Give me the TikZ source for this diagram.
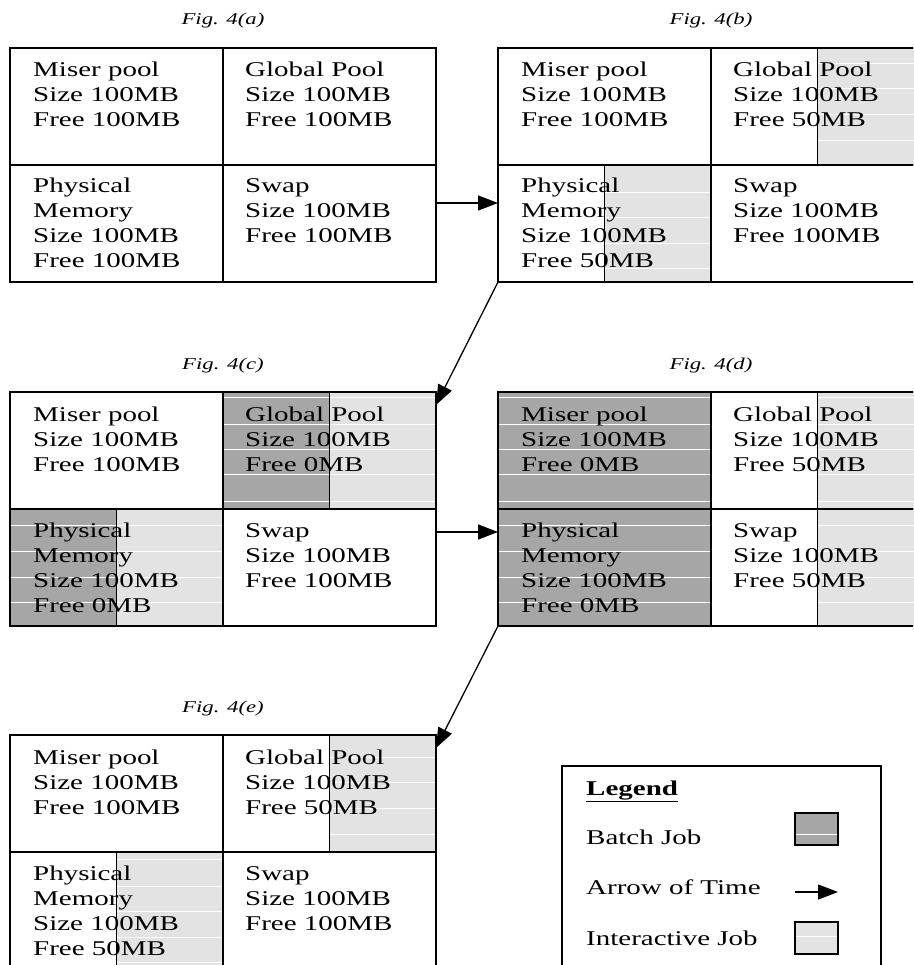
\documentclass[tikz,border=0pt]{standalone}
\usepackage{fontspec}
\setmainfont{Liberation Serif}[FakeStretch=1.38]
\usetikzlibrary{arrows.meta,backgrounds,calc}
\definecolor{batch}{HTML}{A6A6A6}
\definecolor{inter}{HTML}{E3E3E3}
\tikzset{
 cell/.style={draw, line width=1.8pt, minimum width=213pt, minimum height=117pt, inner sep=0pt, outer sep=0pt},
 ctext/.style={anchor=base west, inner sep=0pt, font=\fontsize{21}{25}\selectfont},
 figcap/.style={anchor=base, inner sep=0pt, font=\fontsize{16.5}{19}\selectfont\itshape},
 arr/.style={line width=1.3pt, -{Triangle[length=20pt,width=15pt]}},
 split/.style={line width=1.8pt},
 stripe/.style={white, line width=0.9pt},
 swatch/.style={draw, line width=1.5pt, minimum width=43pt, minimum height=32pt, anchor=north west, inner sep=0pt, outer sep=0pt},
 legendbox/.style={draw, line width=1.3pt, minimum width=319pt, minimum height=230pt, anchor=north west, inner sep=0pt, outer sep=0pt},
}
\newcommand\celllines[1]{\begin{tabular}[t]{@{}l@{}}#1\end{tabular}}
\newcommand\panel[8]{%
 \node[cell, anchor=north west] (#1-mp) at (#2,#3) {};
 \node[cell, anchor=north west] (#1-gp) at (#1-mp.north east) {};
 \node[cell, anchor=north west] (#1-pm) at (#1-mp.south west) {};
 \node[cell, anchor=north west] (#1-sw) at (#1-mp.south east) {};
 \node[figcap] (#1-cap) at ([yshift=23pt]#1-mp.north east) {Fig. 4(#4)};
 \node[ctext] (#1-mpt) at ([shift={(23pt,-29pt)}]#1-mp.north west) {\celllines{Miser pool\\Size 100MB\\Free #5}};
 \node[ctext] (#1-gpt) at ([shift={(22pt,-29pt)}]#1-gp.north west) {\celllines{Global Pool\\Size 100MB\\Free #6}};
 \node[ctext] (#1-pmt) at ([shift={(23pt,-28pt)}]#1-pm.north west) {\celllines{Physical\\Memory\\Size 100MB\\Free #7}};
 \node[ctext] (#1-swt) at ([shift={(22pt,-28pt)}]#1-sw.north west) {\celllines{Swap\\Size 100MB\\Free #8}};
}
\newcommand\stripes[3]{\foreach \s in {#3} {\draw[stripe] (#1,\s) -- (#2,\s);}}
\begin{document}
\begin{tikzpicture}[x=1pt,y=-1pt]
\useasboundingbox (0,0) rectangle (913,965);
\clip (0,0) rectangle (913,965);
\panel{A}{10}{48}{a}{100MB}{100MB}{100MB}{100MB}
\panel{B}{498}{48}{b}{100MB}{50MB}{50MB}{100MB}
\panel{C}{10}{392}{c}{100MB}{0MB}{0MB}{100MB}
\panel{D}{498}{392}{d}{0MB}{50MB}{0MB}{50MB}
\panel{E}{10}{735}{e}{100MB}{50MB}{50MB}{100MB}
\begin{pgfonlayer}{background}
 \fill[inter] (B-gp.north) rectangle (B-gp.south east);
 \fill[inter] (B-pm.north) rectangle (B-pm.south east);
 \fill[batch] (C-gp.north west) rectangle (C-gp.south);
 \fill[inter] (C-gp.north) rectangle (C-gp.south east);
 \fill[batch] (C-pm.north west) rectangle (C-pm.south);
 \fill[inter] (C-pm.north) rectangle (C-pm.south east);
 \fill[batch] (D-mp.north west) rectangle (D-mp.south east);
 \fill[batch] (D-pm.north west) rectangle (D-pm.south east);
 \fill[inter] (D-gp.north) rectangle (D-gp.south east);
 \fill[inter] (D-sw.north) rectangle (D-sw.south east);
 \fill[inter] (E-gp.north) rectangle (E-gp.south east);
 \fill[inter] (E-pm.north) rectangle (E-pm.south east);
 \stripes{817}{924}{63,88,114,140}
 \stripes{605}{711}{192,217,243,268}
 \stripes{223}{436}{397,424,449,474,501}
 \stripes{10}{223}{525,551,577,602}
 \stripes{498}{711}{397,424,449,474,501}
 \stripes{817}{924}{397,424,449,474,501}
 \stripes{498}{711}{525,551,577,602}
 \stripes{817}{924}{525,551,577,602}
 \stripes{329}{436}{757,782,808,834}
 \stripes{117}{223}{859,886,911,937,962}
\end{pgfonlayer}
% split lines
\draw[split] (B-gp.north) -- (B-gp.south);
\draw[split] (B-pm.north) -- (B-pm.south);
\draw[split] (C-gp.north) -- (C-gp.south);
\draw[split] (C-pm.north) -- (C-pm.south);
\draw[split] (D-gp.north) -- (D-sw.south);
\draw[split] (E-gp.north) -- (E-gp.south);
\draw[split] (E-pm.north) -- (E-pm.south);
% arrows of time
\draw[arr] ([yshift=-38pt]A-sw.north east) -- ([yshift=-38pt]B-pm.north west);
\draw[arr] (B-pm.south west) -- ([yshift=-13pt]C-gp.north east);
\draw[arr] ([yshift=-23pt]C-sw.north east) -- ([yshift=-23pt]D-pm.north west);
\draw[arr] (D-pm.south west) -- ([yshift=-13pt]E-gp.north east);
% legend
\node[legendbox] (L) at (562,766) {};
\node[ctext, font=\fontsize{21}{25}\selectfont\bfseries] (L-title) at (586,795) {\underline{Legend}};
\node[ctext] (L-batch) at (586,844) {Batch Job};
\node[swatch, fill=batch] (L-bsw) at (795,813) {};
\draw[stripe] ([shift={(1pt,-21pt)}]L-bsw.north west) -- ([shift={(-1pt,-21pt)}]L-bsw.north east);
\node[ctext] (L-arrow) at (586,894) {Arrow of Time};
\coordinate (L-a1) at (795,892);
\coordinate (L-a2) at (838,892);
\draw[arr] (L-a1) -- (L-a2);
\node[ctext] (L-inter) at (586,945) {Interactive Job};
\node[swatch, fill=inter] (L-isw) at (795,922) {};
\draw[stripe] ([shift={(1pt,-14pt)}]L-isw.north west) -- ([shift={(-1pt,-14pt)}]L-isw.north east);
\end{tikzpicture}
\end{document}
